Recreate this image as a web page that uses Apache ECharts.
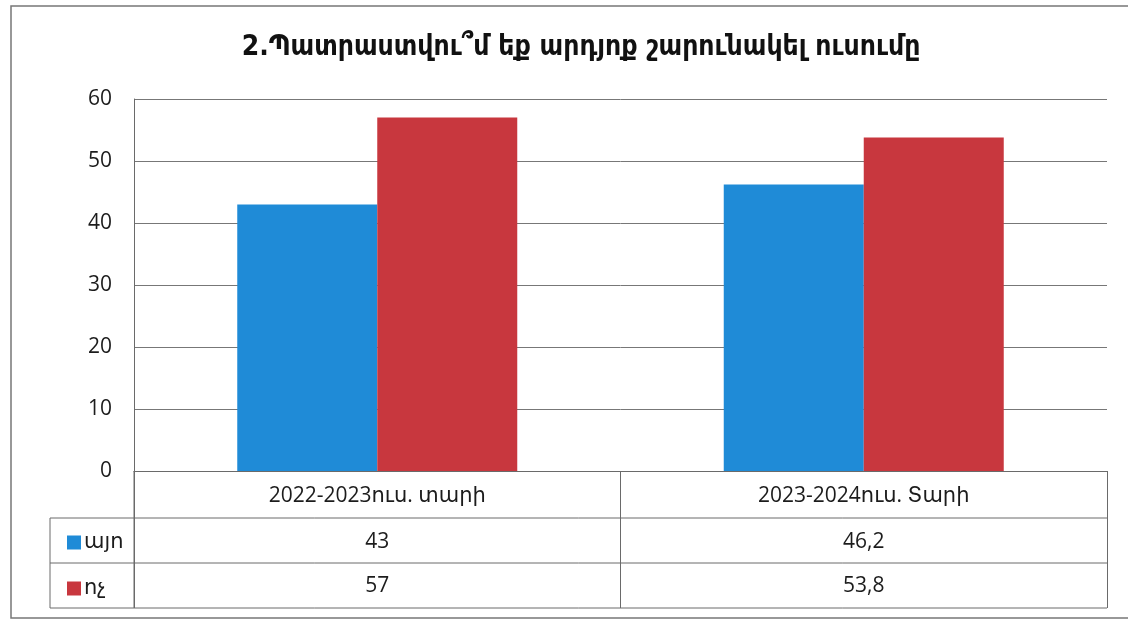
<!DOCTYPE html>
<html>
<head>
<meta charset="utf-8">
<script src="https://cdn.jsdelivr.net/npm/echarts@6/dist/echarts.min.js"></script>
<style>
html,body{margin:0;padding:0;background:#fff;}
#chart{width:1128px;height:621px;}
</style>
</head>
<body>
<div id="chart"></div>
<script>
const titleText = '2.Պատրաստվու՞մ եք արդյոք շարունակել ուսումը';
const categories = ['2022-2023ուս. տարի', '2023-2024ուս. Տարի'];
const seriesNames = ['այո', 'ոչ'];
const yesValues = [43, 46.2];
const noValues = [57, 53.8];
const yTicks = [0, 10, 20, 30, 40, 50, 60];

const FONT = "'Open Sans', 'DejaVu Sans', sans-serif";
const TXT = '#1c1c1c';
const LINE = '#6a6a6a';
const fmt = v => String(v).replace('.', ',');

const chart = echarts.init(document.getElementById('chart'), null, {renderer: 'canvas'});

const gridLeft = 134, gridRight = 1107, gridTop = 99, axisY = 471;
const row1 = 518, row2 = 563, tableBottom = 608, tableLeft = 50;

const option = {
  animation: false,
  backgroundColor: '#fff',
  title: {
    text: titleText,
    left: 576,
    top: 29,
    textAlign: 'center',
    textStyle: {fontFamily: "'DejaVu Sans Condensed', 'DejaVu Sans', sans-serif", fontSize: 28, fontWeight: 'bold', color: '#111'}
  },
  legend: {
    data: seriesNames,
    orient: 'vertical',
    left: 62,
    top: 527,
    itemWidth: 14,
    itemHeight: 14,
    itemGap: 25,
    icon: 'rect',
    textStyle: {fontFamily: FONT, fontSize: 21, color: TXT, lineHeight: 20, padding: [0, 0, 0, -2]}
  },
  grid: {left: gridLeft, right: 1128 - gridRight, top: gridTop, bottom: 621 - axisY, containLabel: false},
  xAxis: [
    {
      type: 'category',
      data: categories,
      position: 'bottom',
      axisLine: {show: true, lineStyle: {color: LINE, width: 1}},
      axisTick: {show: true, length: tableBottom - axisY, lineStyle: {color: LINE, width: 1}},
      axisLabel: {fontFamily: FONT, fontSize: 21, color: TXT, margin: 15}
    },
    {
      type: 'category',
      data: categories,
      position: 'bottom',
      offset: 46,
      axisLine: {show: false}, axisTick: {show: false},
      axisLabel: {fontFamily: FONT, fontSize: 21, color: TXT, margin: 15,
        formatter: (v, i) => fmt(yesValues[i])}
    },
    {
      type: 'category',
      data: categories,
      position: 'bottom',
      offset: 90,
      axisLine: {show: false}, axisTick: {show: false},
      axisLabel: {fontFamily: FONT, fontSize: 21, color: TXT, margin: 15,
        formatter: (v, i) => fmt(noValues[i])}
    }
  ],
  yAxis: {
    type: 'value',
    min: 0, max: 60, interval: 10,
    axisLine: {show: true, lineStyle: {color: LINE}},
    axisTick: {show: false},
    axisLabel: {fontFamily: FONT, fontSize: 21, color: TXT, margin: 22,
      formatter: v => yTicks.includes(v) ? String(v) : ''},
    splitLine: {show: true, lineStyle: {color: '#777', width: 1}}
  },
  series: [
    {name: seriesNames[0], type: 'bar', data: yesValues, barWidth: 140, barGap: '0%',
     itemStyle: {color: '#1f8bd7'}},
    {name: seriesNames[1], type: 'bar', data: noValues, barWidth: 140, barGap: '0%',
     itemStyle: {color: '#c8373e'}}
  ],
  graphic: [
    {type: 'rect', shape: {x: 11, y: 6, width: 1130, height: 612}, style: {fill: 'none', stroke: '#777', lineWidth: 1.5}, silent: true},
    {type: 'line', shape: {x1: tableLeft, y1: row1, x2: gridRight, y2: row1}, style: {stroke: LINE, lineWidth: 1}},
    {type: 'line', shape: {x1: tableLeft, y1: row2, x2: gridRight, y2: row2}, style: {stroke: LINE, lineWidth: 1}},
    {type: 'line', shape: {x1: tableLeft, y1: tableBottom, x2: gridRight, y2: tableBottom}, style: {stroke: LINE, lineWidth: 1}},
    {type: 'line', shape: {x1: tableLeft, y1: row1, x2: tableLeft, y2: tableBottom}, style: {stroke: LINE, lineWidth: 1}},
    {type: 'line', shape: {x1: gridLeft, y1: axisY, x2: gridLeft, y2: tableBottom}, style: {stroke: LINE, lineWidth: 1}}
  ]
};
chart.setOption(option);
</script>
</body>
</html>
